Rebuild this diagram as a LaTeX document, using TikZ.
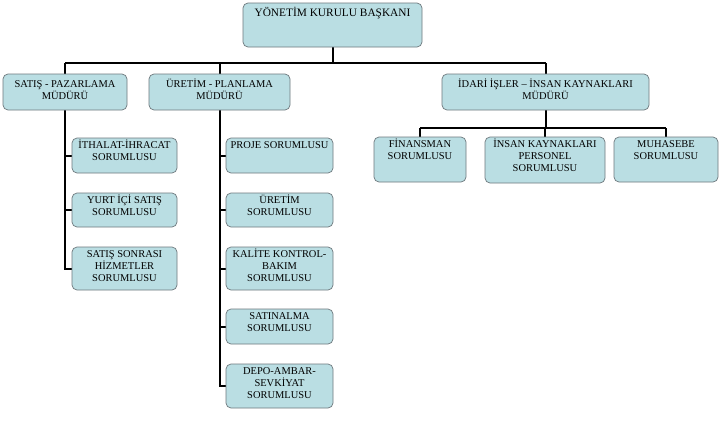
\documentclass[tikz,border=0pt]{standalone}
\usepackage{fontspec}
\setmainfont{Liberation Serif}
\usetikzlibrary{fit,backgrounds}
\definecolor{boxfill}{RGB}{186,222,227}
\definecolor{boxline}{RGB}{110,120,125}
\newcommand\boxlines[1]{\begin{tabular}[t]{@{}c@{}}#1\end{tabular}}
\tikzset{
  orgbox/.style={draw=boxline, fill=boxfill, rounded corners=5bp, line width=0.7bp, inner sep=0pt},
  orgtxt/.style={anchor=base, inner sep=0pt, font=\fontsize{10.5}{12}\selectfont},
  toptxt/.style={anchor=base, inner sep=0pt, font=\fontsize{11.4}{13.5}\selectfont},
  conn/.style={draw=black, line width=2bp}
}
% name, x1, y1, x2, y2, text offset, text
\newcommand\orgbox[7]{%
  \node[orgbox, fit={(#2,#3) (#4,#5)}] (#1) {};
  \node[orgtxt] (#1-t) at ([yshift=-#6bp]#1.north) {\boxlines{#7}};
}
\begin{document}
\begin{tikzpicture}[x=1bp, y=-1bp]
\useasboundingbox (0,0) rectangle (720,428);
% top
\node[orgbox, fit={(243,3) (422,47)}] (top) {};
\node[toptxt] (top-t) at ([yshift=-14bp]top.north) {YÖNETİM KURULU BAŞKANI};
% managers
\orgbox{satis}{3}{74}{127}{110}{14}{SATIŞ - PAZARLAMA\\MÜDÜRÜ}
\orgbox{uretim}{149}{74}{290}{110}{14}{ÜRETİM - PLANLAMA\\MÜDÜRÜ}
\orgbox{idari}{442}{74}{649}{110}{14}{İDARİ İŞLER -- İNSAN KAYNAKLARI\\MÜDÜRÜ}
% left column
\orgbox{ithalat}{72}{138}{177}{173}{11}{İTHALAT-İHRACAT\\SORUMLUSU}
\orgbox{yurtici}{72}{193}{177}{227}{11}{YURT İÇİ SATIŞ\\SORUMLUSU}
\orgbox{sonrasi}{72}{247}{177}{290}{11}{SATIŞ SONRASI\\HİZMETLER\\SORUMLUSU}
% middle column
\orgbox{proje}{226}{138}{333}{173}{11}{PROJE SORUMLUSU}
\orgbox{uretims}{226}{193}{333}{227}{11}{ÜRETİM\\SORUMLUSU}
\orgbox{kalite}{226}{247}{333}{290}{11}{KALİTE KONTROL-\\BAKIM\\SORUMLUSU}
\orgbox{satinalma}{226}{309}{333}{344}{11}{SATINALMA\\SORUMLUSU}
\orgbox{depo}{226}{364}{333}{408}{11}{DEPO-AMBAR-\\SEVKİYAT\\SORUMLUSU}
% right row
\orgbox{finans}{374}{137}{466}{182}{10.5}{FİNANSMAN\\SORUMLUSU}
\orgbox{insan}{485}{137}{605}{183}{10.5}{İNSAN KAYNAKLARI\\PERSONEL\\SORUMLUSU}
\orgbox{muhasebe}{614}{137}{718}{182}{10.5}{MUHASEBE\\SORUMLUSU}
\coordinate (hb) at (333,63);
\coordinate (hr) at (545,128);
\begin{scope}[on background layer]
\fill[white] (0,0) rectangle (720,428);
\draw[conn] (top.south) -- (top.south |- hb);
\draw[conn] (satis.north |- hb) -- (idari.north |- hb);
\draw[conn] (satis.north |- hb) -- (satis.north);
\draw[conn] (uretim.north |- hb) -- (uretim.north);
\draw[conn] (idari.north |- hb) -- (idari.north);
\draw[conn] (satis.south) |- (ithalat.west);
\draw[conn] (satis.south) |- (yurtici.west);
\draw[conn] (satis.south) |- (sonrasi.west);
\draw[conn] (uretim.south) |- (proje.west);
\draw[conn] (uretim.south) |- (uretims.west);
\draw[conn] (uretim.south) |- (kalite.west);
\draw[conn] (uretim.south) |- (satinalma.west);
\draw[conn] (uretim.south) |- (depo.west);
\draw[conn] (idari.south) -- (idari.south |- hr);
\draw[conn] (finans.north |- hr) -- (muhasebe.north |- hr);
\draw[conn] (finans.north |- hr) -- (finans.north);
\draw[conn] (insan.north |- hr) -- (insan.north);
\draw[conn] (muhasebe.north |- hr) -- (muhasebe.north);
\end{scope}
\end{tikzpicture}
\end{document}
